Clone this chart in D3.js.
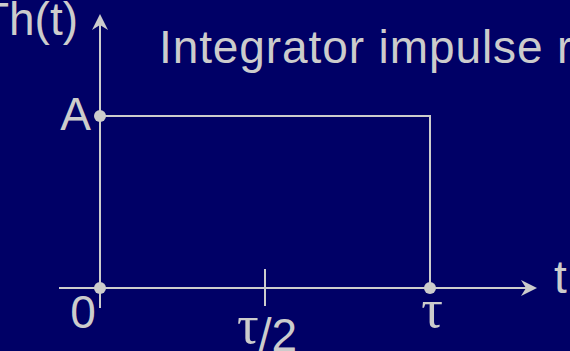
<!DOCTYPE html>
<html>
<head>
<meta charset="utf-8">
<script src="https://cdn.jsdelivr.net/npm/d3@7"></script>
<style>
  html, body { margin: 0; padding: 0; background: #000066; overflow: hidden; }
  svg { display: block; }
  text { font-family: "Liberation Sans", Arial, sans-serif; fill: #cccccc; }
</style>
</head>
<body>
<script>
// ---- data ----
const titleText = "Integrator impulse response";
const yLabelText = "Th(t)";
const xLabelText = "t";
const pulseT = [0, 0, 1, 1];      // time in units of tau
const pulseH = [0, 1, 1, 0];      // height in units of A
const dotT = [0, 0, 1];
const dotH = [0, 1, 0];
const xTickValues = [0, 0.5, 1];
const xTickLabels = ["0", "τ/2", "τ"];
const yTickValues = [1];
const yTickLabels = ["A"];

// ---- layout ----
const W = 570, H = 351;
const col = "#cccccc";
const serif = "'Liberation Serif', 'Times New Roman', serif";
const x = d3.scaleLinear().domain([0, 1]).range([100, 430]);
const y = d3.scaleLinear().domain([0, 1]).range([288, 116]);

const svg = d3.select("body").append("svg").attr("width", W).attr("height", H);
svg.append("rect").attr("width", W).attr("height", H).attr("fill", "#000066");

// axes
const xMin = x.invert(59), xMax = x.invert(537);
const yMin = y.invert(308), yMax = y.invert(14);
svg.append("line").attr("x1", x(xMin)).attr("x2", x(xMax) - 6).attr("y1", y(0)).attr("y2", y(0))
  .attr("stroke", col).attr("stroke-width", 2);
svg.append("line").attr("x1", x(0)).attr("x2", x(0)).attr("y1", y(yMin)).attr("y2", y(yMax) + 6)
  .attr("stroke", col).attr("stroke-width", 2);
// arrowheads
const ax = x(xMax), ay = y(0);
svg.append("path").attr("d", `M${ax},${ay} L${ax-16},${ay-8} L${ax-11},${ay} L${ax-16},${ay+8} Z`).attr("fill", col);
const bx = x(0), by = y(yMax);
svg.append("path").attr("d", `M${bx},${by} L${bx-8},${by+16} L${bx},${by+11} L${bx+8},${by+16} Z`).attr("fill", col);

// tick at tau/2
svg.selectAll("line.tick").data(xTickValues.filter(v => v > 0 && v < 1)).enter().append("line")
  .attr("class", "tick")
  .attr("x1", d => x(d)).attr("x2", d => x(d))
  .attr("y1", y(0) - 19).attr("y2", y(0) + 18)
  .attr("stroke", col).attr("stroke-width", 2);

// pulse
const line = d3.line().x(d => x(d[0])).y(d => y(d[1]));
svg.append("path").attr("d", line(pulseT.map((t, i) => [t, pulseH[i]])))
  .attr("fill", "none").attr("stroke", col).attr("stroke-width", 2);

// dots
svg.selectAll("circle.dot").data(dotT.map((t, i) => [t, dotH[i]])).enter().append("circle")
  .attr("cx", d => x(d[0])).attr("cy", d => y(d[1])).attr("r", 6).attr("fill", col);

// tick labels
const tickPos = [
  { dx: -17, y: 328, tauShift: 0 },
  { dx: 2, y: 351, tauShift: -8 },
  { dx: 2, y: 327, tauShift: 0 }
];
xTickValues.forEach((v, i) => {
  const t = svg.append("text").attr("x", x(v) + tickPos[i].dx).attr("y", tickPos[i].y)
    .attr("text-anchor", "middle").attr("font-size", 46);
  const lab = xTickLabels[i];
  let shifted = 0;
  for (const ch of lab) {
    const ts = t.append("tspan").text(ch);
    if (ch === "τ") {
      ts.attr("font-family", serif).attr("font-size", 54);
      if (tickPos[i].tauShift) { ts.attr("dy", tickPos[i].tauShift); shifted = tickPos[i].tauShift; }
    } else if (shifted) {
      ts.attr("dy", -shifted); shifted = 0;
    }
  }
});
yTickValues.forEach((v, i) => {
  svg.append("text").attr("x", x(0) - 9).attr("y", y(v) + 14)
    .attr("text-anchor", "end").attr("font-size", 46).text(yTickLabels[i]);
});

// axis labels & title
svg.append("text").attr("x", 78).attr("y", 35).attr("text-anchor", "end").attr("font-size", 46).text(yLabelText);
svg.append("text").attr("x", 554).attr("y", 293).attr("font-size", 46).text(xLabelText);
svg.append("text").attr("x", 159).attr("y", 63).attr("font-size", 46)
  .attr("letter-spacing", 0.9).text(titleText);
</script>
</body>
</html>
